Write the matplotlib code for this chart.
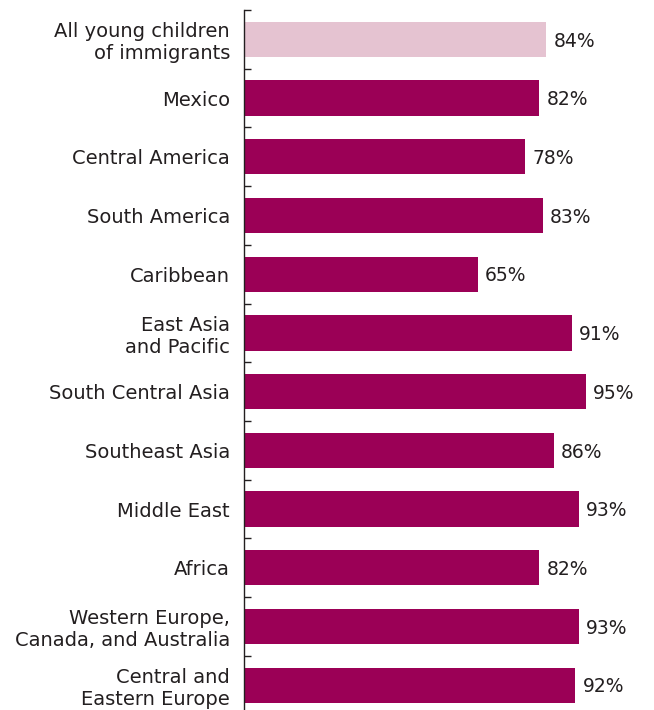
import numpy as np
import matplotlib

matplotlib.use("Agg")
import matplotlib.pyplot as plt

# data
categories = ["All young children\nof immigrants", "Mexico", "Central America", "South America",
              "Caribbean", "East Asia\nand Pacific", "South Central Asia", "Southeast Asia",
              "Middle East", "Africa", "Western Europe,\nCanada, and Australia",
              "Central and\nEastern Europe"]
values = [84, 82, 78, 83, 65, 91, 95, 86, 93, 82, 93, 92]
colors = ["#e5c3d1"] + ["#9b0056"] * 11

plt.rcParams['font.family'] = ['DejaVu Sans']
textColor = "#231f20"

fig = plt.figure(figsize=(6.54, 7.10), dpi=100)
ax = fig.add_axes([244 / 654, 1 - 714.5 / 710, 1 - 244 / 654, 704.5 / 710])

y = np.arange(len(categories))
ax.barh(y, values, height=0.6, color=colors, left=0)
ax.set_ylim(len(categories) - 0.5, -0.5)
ax.set_xlim(0, 410 / 3.6)

for yi, v in zip(y, values):
    ax.text(v + 2.0, yi + 0.03, f"{v}%", va="center", ha="left", fontsize=13.5, color=textColor)

for spine in ["top", "right", "bottom"]:
    ax.spines[spine].set_visible(False)
ax.spines["left"].set_color(textColor)
ax.spines["left"].set_linewidth(1.0)

ax.set_xticks([])
# boundary ticks between categories
ax.set_yticks(np.arange(-0.5, len(categories), 1.0), minor=True)
ax.tick_params(axis="y", which="minor", direction="in", length=5, width=1, color=textColor)
ax.set_yticks(y)
ax.set_yticklabels(categories, fontsize=14, color=textColor, linespacing=1.2)
ax.tick_params(axis="y", which="major", length=0, pad=10)

fig.savefig("out.png", dpi=100)
